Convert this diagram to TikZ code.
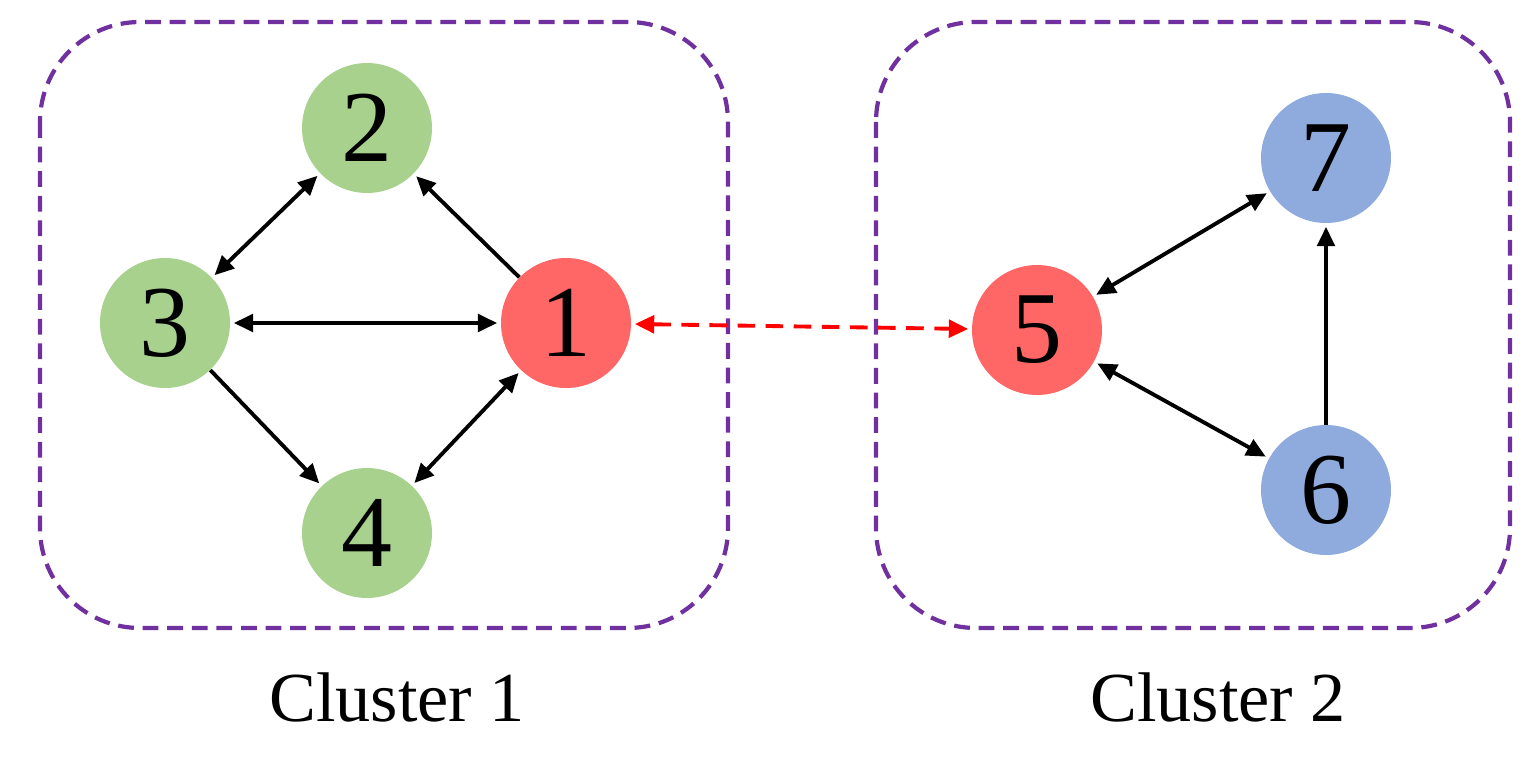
\documentclass[tikz,border=0pt]{standalone}
\usepackage{fontspec}
\setmainfont{Liberation Serif}
\usetikzlibrary{arrows.meta}
\begin{document}
\begin{tikzpicture}[x=0.02cm,y=-0.02cm,
  nd/.style={circle,minimum size=2.6cm,inner sep=0pt,font=\fontsize{58}{58}\selectfont},
  gr/.style={nd,fill={rgb,255:red,169;green,209;blue,142}},
  rd/.style={nd,fill={rgb,255:red,255;green,102;blue,102}},
  bl/.style={nd,fill={rgb,255:red,143;green,170;blue,220}},
  box/.style={draw={rgb,255:red,112;green,48;blue,160},line width=2.4pt,dash pattern=on 9pt off 5pt,rounded corners=2cm},
  ed/.style={line width=2.2pt,-{Triangle[length=11pt,width=10pt]},shorten >=2pt},
  bd/.style={ed,{Triangle[length=11pt,width=10pt]}-{Triangle[length=11pt,width=10pt]},shorten <=2pt},
  lab/.style={font=\fontsize{40}{40}\selectfont}]
\useasboundingbox (0,0) rectangle (1536,761);
\draw[box] (40,22) rectangle (728,628);
\draw[box] (876,22) rectangle (1510,628);
\node[gr] (n2) at (367,128) {2};
\node[gr] (n3) at (165,323) {3};
\node[rd] (n1) at (566,323) {1};
\node[gr] (n4) at (367,533) {4};
\node[bl] (n7) at (1326,158) {7};
\node[rd] (n5) at (1037,330) {5};
\node[bl] (n6) at (1326,490) {6};
\draw[ed] (n1) -- (n2);
\draw[bd] (n2) -- (n3);
\draw[bd] (n3) -- (n1);
\draw[ed] (n3) -- (n4);
\draw[bd] (n4) -- (n1);
\draw[bd,red,dash pattern=on 10pt off 6pt] (n1) -- (n5);
\draw[bd] (n5) -- (n7);
\draw[bd] (n5) -- (n6);
\draw[ed] (n6) -- (n7);
\node[lab] (c1) at (397,697) {Cluster 1};
\node[lab] (c2) at (1218,697) {Cluster 2};
\end{tikzpicture}
\end{document}
